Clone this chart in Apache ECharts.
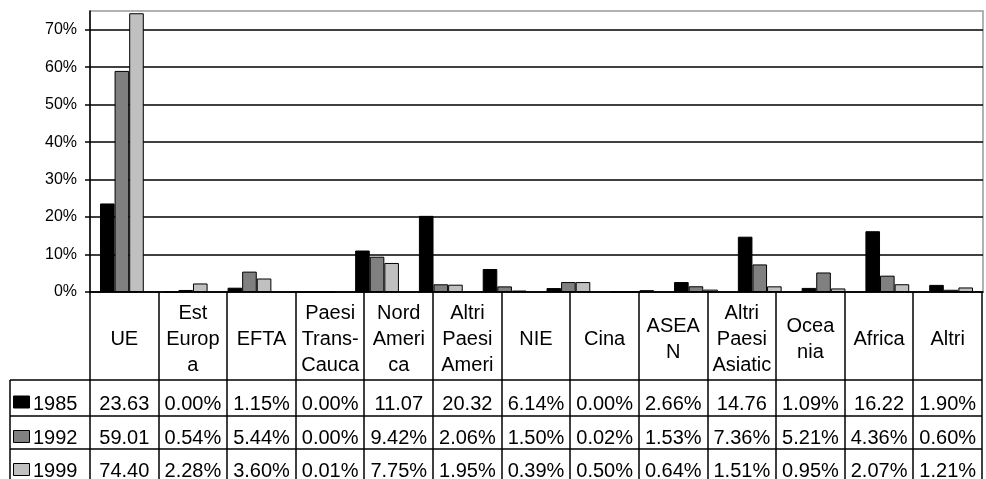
<!DOCTYPE html>
<html lang="it">
  <head>
    <meta charset="UTF-8" />
    <title>Quote per area</title>
    <script src="https://cdn.jsdelivr.net/npm/echarts@6/dist/echarts.min.js"></script>
    <style>
      body {
        margin: 0;
        background: #fff;
      }
      #main {
        width: 986px;
        height: 479px;
      }
    </style>
  </head>
  <body>
    <div id="main"></div>
    <script>
      // categorie del grafico (la 8a non compare nella tabella)
      var categories = ["UE", "Est Europa", "EFTA", "Paesi Trans-Cauca", "Nord America", "Altri Paesi Ameri", "NIE", "", "Cina", "ASEAN", "Altri Paesi Asiatic", "Oceania", "Africa", "Altri"];
      // intestazioni della tabella, come spezzate nel riquadro
      var headerLabels = ["UE", "Est\nEurop\na", "EFTA", "Paesi\nTrans-\nCauca", "Nord\nAmeri\nca", "Altri\nPaesi\nAmeri", "NIE", "Cina", "ASEA\nN", "Altri\nPaesi\nAsiatic", "Ocea\nnia", "Africa", "Altri"];
      var years = ["1985", "1992", "1999"];
      var s1985 = [23.63, 0.0, 1.15, 0.0, 11.07, 20.32, 6.14, 1.05, 0.0, 2.66, 14.76, 1.09, 16.22, 1.9];
      var s1992 = [59.01, 0.54, 5.44, 0.0, 9.42, 2.06, 1.5, 2.65, 0.02, 1.53, 7.36, 5.21, 4.36, 0.6];
      var s1999 = [74.4, 2.28, 3.6, 0.01, 7.75, 1.95, 0.39, 2.65, 0.5, 0.64, 1.51, 0.95, 2.07, 1.21];
      var yTicks = [0, 10, 20, 30, 40, 50, 60, 70];

      var colors = ["#000000", "#808080", "#c0c0c0"];
      var font = "'Liberation Sans', Arial, sans-serif";

      var myChart = echarts.init(document.getElementById("main"));

      // tabella dati sotto il grafico
      var tLeft = 90,
        tRight = 982,
        keyLeft = 10;
      var rowsY = [292, 380, 416, 449, 482];
      function buildTable() {
        var els = [];
        var colW = (tRight - tLeft) / headerLabels.length;
        var line = function (x1, y1, x2, y2) {
          els.push({
            type: "line",
            shape: { x1: x1, y1: y1, x2: x2, y2: y2 },
            style: { stroke: "#000", lineWidth: 1.5 },
            z: 10,
          });
        };
        // righe orizzontali
        for (var r = 1; r < rowsY.length; r++) {
          line(keyLeft, rowsY[r], tRight, rowsY[r]);
        }
        // colonne
        for (var c = 0; c <= headerLabels.length; c++) {
          var x = Math.round(tLeft + c * colW);
          line(x, rowsY[0], x, rowsY[4]);
        }
        line(keyLeft, rowsY[1], keyLeft, rowsY[4]);

        // intestazioni
        headerLabels.forEach(function (h, i) {
          els.push({
            type: "text",
            x: tLeft + (i + 0.5) * colW,
            y: (rowsY[0] + rowsY[1]) / 2 + 3,
            style: {
              text: h,
              fill: "#000",
              font: "20px " + font,
              align: "center",
              verticalAlign: "middle",
              lineHeight: 26,
            },
            z: 11,
          });
        });

        // valori e legenda
        var series = [s1985, s1992, s1999];
        series.forEach(function (vals, r) {
          var yc = (rowsY[r + 1] + rowsY[r + 2]) / 2 + 6;
          els.push({
            type: "rect",
            shape: { x: 13.5, y: yc - 8, width: 16, height: 12 },
            style: { fill: colors[r], stroke: "#000", lineWidth: 1 },
            z: 11,
          });
          els.push({
            type: "text",
            x: 33,
            y: yc,
            style: { text: years[r], fill: "#000", font: "20px " + font, align: "left", verticalAlign: "middle" },
            z: 11,
          });
          var col = 0;
          vals.forEach(function (v, i) {
            if (categories[i] === "") return;
            var txt = v >= 10 ? v.toFixed(2) : v.toFixed(2) + "%";
            els.push({
              type: "text",
              x: tLeft + (col + 0.5) * colW,
              y: yc,
              style: { text: txt, fill: "#000", font: "20px " + font, align: "center", verticalAlign: "middle" },
              z: 11,
            });
            col++;
          });
        });
        return els;
      }

      function barSeries(name, data, color) {
        return {
          name: name,
          type: "bar",
          data: data,
          barWidth: 14.6,
          barGap: "0%",
          itemStyle: { color: color, borderColor: "#000", borderWidth: 1 },
          animation: false,
        };
      }

      var option = {
        backgroundColor: "#fff",
        animation: false,
        grid: {
          left: 90,
          right: 3,
          top: 11,
          bottom: 187,
          show: true,
          borderColor: "#999",
          borderWidth: 1.5,
          backgroundColor: "#fff",
        },
        xAxis: {
          type: "category",
          data: categories,
          axisLine: { lineStyle: { color: "#000", width: 1.5 } },
          axisTick: { show: false },
          axisLabel: { show: false },
          splitLine: { show: false },
        },
        yAxis: {
          type: "value",
          min: yTicks[0],
          max: 75,
          interval: yTicks[1] - yTicks[0],
          axisLine: { show: true, lineStyle: { color: "#000", width: 1.5 } },
          axisTick: { show: true, length: 5, lineStyle: { color: "#000", width: 1.5 } },
          axisLabel: {
            showMaxLabel: false,
            formatter: "{value}%",
            color: "#000",
            fontSize: 16,
            fontFamily: font,
            margin: 13,
          },
          splitLine: { show: true, showMaxLine: false, lineStyle: { color: "#000", width: 1.5 } },
        },
        series: [barSeries(years[0], s1985, colors[0]), barSeries(years[1], s1992, colors[1]), barSeries(years[2], s1999, colors[2])],
        graphic: buildTable(),
      };
      myChart.setOption(option);
    </script>
  </body>
</html>
